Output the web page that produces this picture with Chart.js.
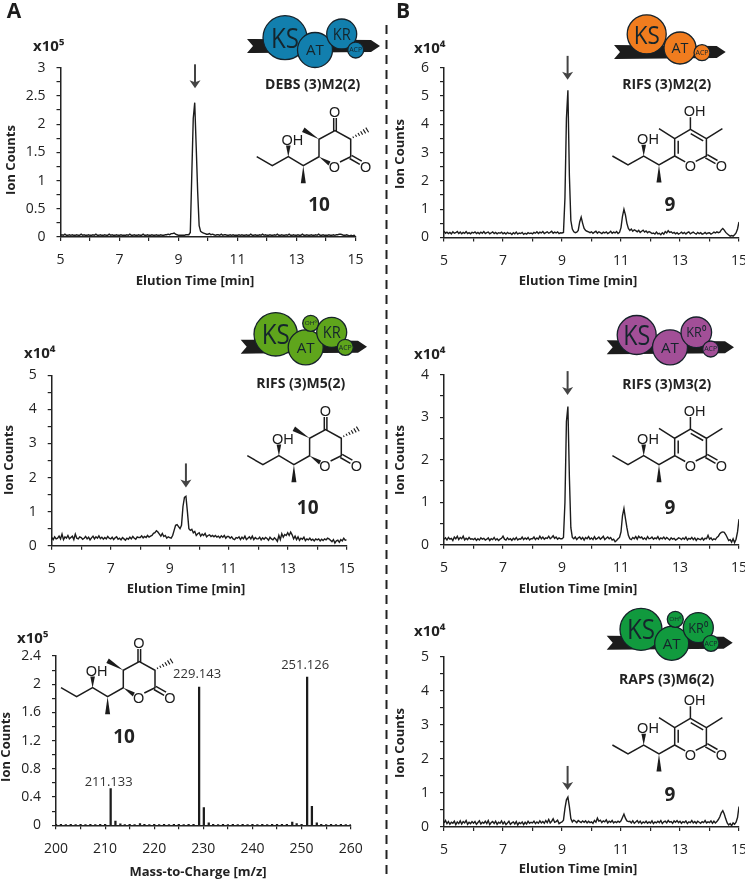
<!DOCTYPE html>
<html>
<head>
<meta charset="utf-8">
<title>Ion counts</title>
<script src="https://cdn.jsdelivr.net/npm/chart.js@4"></script>
<style>
  html, body { margin: 0; padding: 0; background: #fff; overflow: hidden; width: 745px; height: 879px; }
  #stage { position: relative; width: 745px; height: 879px; }
  canvas { position: absolute; }
  #art { position: absolute; left: 0; top: 0; pointer-events: none; }
</style>
</head>
<body>
<div id="stage"></div>
<script>
// Elution time grid, one row per minute
const elutionTimes = [
  5,5.05,5.1,5.15,5.2,5.25,5.3,5.35,5.4,5.45,5.5,5.55,5.6,5.65,5.7,5.75,5.8,5.85,5.9,5.95,
  6,6.05,6.1,6.15,6.2,6.25,6.3,6.35,6.4,6.45,6.5,6.55,6.6,6.65,6.7,6.75,6.8,6.85,6.9,6.95,
  7,7.05,7.1,7.15,7.2,7.25,7.3,7.35,7.4,7.45,7.5,7.55,7.6,7.65,7.7,7.75,7.8,7.85,7.9,7.95,
  8,8.05,8.1,8.15,8.2,8.25,8.3,8.35,8.4,8.45,8.5,8.55,8.6,8.65,8.7,8.75,8.8,8.85,8.9,8.95,
  9,9.05,9.1,9.15,9.2,9.25,9.3,9.35,9.4,9.45,9.5,9.55,9.6,9.65,9.7,9.75,9.8,9.85,9.9,9.95,
  10,10.05,10.1,10.15,10.2,10.25,10.3,10.35,10.4,10.45,10.5,10.55,10.6,10.65,10.7,10.75,10.8,10.85,10.9,10.95,
  11,11.05,11.1,11.15,11.2,11.25,11.3,11.35,11.4,11.45,11.5,11.55,11.6,11.65,11.7,11.75,11.8,11.85,11.9,11.95,
  12,12.05,12.1,12.15,12.2,12.25,12.3,12.35,12.4,12.45,12.5,12.55,12.6,12.65,12.7,12.75,12.8,12.85,12.9,12.95,
  13,13.05,13.1,13.15,13.2,13.25,13.3,13.35,13.4,13.45,13.5,13.55,13.6,13.65,13.7,13.75,13.8,13.85,13.9,13.95,
  14,14.05,14.1,14.15,14.2,14.25,14.3,14.35,14.4,14.45,14.5,14.55,14.6,14.65,14.7,14.75,14.8,14.85,14.9,14.95,
  15
];

const debsM2Counts = [
  .03,.04,.03,.05,.03,.03,.04,.03,.04,.03,.03,.04,.03,.03,.05,.03,.04,.03,.03,.04,
  .03,.03,.04,.03,.05,.03,.03,.04,.03,.03,.04,.03,.03,.05,.03,.04,.03,.03,.04,.03,
  .03,.04,.03,.03,.03,.04,.03,.05,.03,.03,.04,.03,.03,.04,.03,.03,.05,.03,.03,.04,
  .03,.03,.04,.03,.03,.04,.03,.03,.04,.03,.03,.04,.04,.05,.04,.06,.06,.07,.05,.04,
  .03,.03,.03,.03,.03,.04,.04,.04,.08,1.1,2.1,2.38,1.6,.8,.2,.1,.08,.07,.06,.05,
  .05,.06,.04,.05,.04,.03,.04,.04,.03,.05,.03,.04,.04,.03,.03,.04,.03,.04,.03,.03,
  .03,.04,.03,.04,.03,.03,.04,.03,.03,.05,.03,.03,.04,.03,.03,.04,.03,.05,.03,.04,
  .03,.03,.04,.03,.03,.04,.03,.05,.03,.03,.04,.03,.03,.04,.03,.05,.03,.03,.04,.03,
  .03,.04,.03,.03,.05,.03,.03,.04,.03,.03,.04,.03,.03,.04,.03,.05,.03,.03,.04,.03,
  .03,.03,.04,.03,.03,.04,.03,.04,.04,.05,.05,.04,.03,.03,.04,.03,.02,.03,.02,.03,
  .02
];

const rifsM2Counts = [
  .22,.15,.19,.14,.18,.13,.2,.15,.17,.21,.14,.19,.13,.18,.15,.21,.14,.17,.13,.18,
  .16,.2,.14,.18,.13,.19,.15,.21,.14,.17,.19,.13,.16,.2,.14,.18,.13,.17,.15,.19,
  .13,.17,.12,.18,.14,.16,.11,.17,.13,.19,.12,.16,.14,.18,.11,.15,.12,.17,.14,.16,
  .13,.18,.15,.2,.14,.19,.16,.21,.14,.17,.2,.15,.18,.22,.15,.19,.16,.2,.14,.17,
  .16,.18,1.4,4.2,5.2,2.2,.6,.3,.2,.17,.19,.25,.55,.72,.5,.32,.25,.22,.2,.17,
  .2,.15,.19,.22,.15,.2,.17,.14,.19,.16,.2,.14,.17,.22,.15,.19,.16,.21,.14,.18,
  .35,.75,1,.8,.5,.32,.25,.3,.22,.27,.24,.2,.25,.18,.22,.26,.19,.23,.17,.21,
  .18,.14,.16,.12,.19,.13,.15,.1,.17,.12,.21,.16,.24,.18,.2,.15,.18,.13,.17,.12,
  .15,.19,.14,.18,.12,.17,.2,.13,.16,.19,.15,.12,.18,.14,.17,.12,.14,.18,.13,.16,
  .17,.12,.15,.19,.16,.2,.17,.19,.27,.32,.26,.18,.13,.09,.05,.07,.05,.1,.16,.3,
  .55
];

const rifsM5Counts = [
  .24,.18,.26,.2,.22,.28,.2,.34,.18,.26,.22,.3,.2,.24,.28,.18,.34,.22,.2,.26,
  .24,.19,.22,.27,.2,.25,.17,.23,.28,.2,.26,.22,.29,.21,.25,.19,.24,.2,.27,.22,
  .2,.25,.18,.23,.26,.19,.22,.17,.24,.2,.16,.22,.19,.25,.2,.27,.22,.19,.26,.24,
  .24,.29,.23,.27,.24,.3,.25,.28,.3,.36,.38,.44,.4,.34,.28,.36,.27,.3,.22,.26,
  .24,.22,.3,.45,.6,.62,.56,.5,.6,1.15,1.42,1.45,1,.5,.45,.48,.38,.42,.3,.35,
  .38,.28,.34,.3,.36,.26,.3,.32,.27,.3,.26,.3,.25,.28,.23,.29,.25,.3,.22,.27,
  .27,.22,.26,.2,.18,.24,.22,.26,.18,.25,.2,.28,.18,.22,.26,.2,.28,.18,.24,.2,
  .2,.25,.17,.23,.19,.24,.21,.16,.25,.2,.17,.23,.19,.13,.3,.18,.35,.25,.33,.3,
  .38,.3,.4,.32,.2,.28,.18,.26,.16,.22,.19,.25,.15,.2,.17,.22,.16,.19,.14,.2,
  .17,.2,.14,.19,.15,.2,.17,.22,.2,.16,.12,.18,.08,.14,.16,.1,.18,.14,.22,.16,
  .17
];

const rifsM3Counts = [
  .13,.16,.11,.17,.13,.15,.1,.18,.14,.2,.12,.17,.14,.2,.11,.15,.12,.17,.13,.14,
  .12,.15,.1,.14,.11,.16,.13,.15,.11,.13,.16,.1,.14,.12,.17,.11,.14,.1,.13,.15,
  .2,.13,.11,.16,.12,.14,.1,.15,.12,.17,.11,.14,.13,.18,.12,.16,.13,.17,.11,.14,
  .14,.18,.12,.16,.13,.2,.14,.18,.13,.16,.15,.2,.14,.17,.21,.15,.18,.13,.16,.14,
  .14,.17,1,2.9,3.25,1.6,.4,.17,.14,.18,.12,.16,.18,.13,.17,.11,.17,.14,.19,.13,
  .16,.12,.19,.13,.15,.18,.13,.16,.2,.12,.15,.18,.14,.17,.11,.13,.07,.1,.14,.17,
  .3,.68,.85,.62,.4,.22,.14,.12,.17,.14,.19,.13,.2,.16,.18,.13,.16,.12,.19,.14,
  .15,.18,.13,.16,.14,.19,.12,.16,.14,.18,.13,.17,.14,.11,.16,.13,.15,.11,.13,.16,
  .15,.12,.16,.13,.18,.11,.15,.13,.17,.12,.16,.1,.15,.13,.12,.16,.11,.15,.14,.22,
  .13,.16,.11,.14,.12,.17,.2,.26,.29,.3,.29,.24,.17,.1,.12,.06,.14,.05,.13,.3,
  .6
];

const rapsM6Counts = [
  .12,.19,.1,.16,.08,.14,.11,.17,.07,.15,.1,.18,.09,.16,.12,.19,.08,.14,.1,.16,
  .11,.16,.08,.13,.18,.09,.14,.11,.17,.1,.19,.07,.13,.16,.1,.17,.08,.14,.11,.18,
  .09,.15,.07,.12,.17,.08,.12,.15,.09,.16,.06,.13,.1,.15,.07,.14,.09,.17,.11,.14,
  .12,.17,.1,.15,.11,.18,.12,.16,.11,.19,.13,.22,.12,.17,.24,.14,.16,.2,.1,.13,
  .15,.2,.55,.8,.88,.6,.25,.15,.2,.17,.13,.19,.16,.13,.18,.14,.18,.12,.17,.13,
  .15,.11,.19,.14,.26,.17,.2,.13,.18,.15,.21,.12,.17,.14,.19,.12,.16,.13,.17,.14,
  .18,.28,.38,.26,.18,.16,.17,.12,.18,.11,.15,.19,.12,.17,.1,.15,.12,.17,.11,.15,
  .12,.18,.1,.15,.12,.17,.13,.19,.1,.15,.17,.12,.19,.14,.16,.11,.18,.14,.19,.13,
  .17,.11,.16,.13,.18,.1,.15,.13,.19,.12,.16,.11,.17,.14,.11,.16,.13,.19,.12,.15,
  .13,.18,.11,.17,.12,.16,.22,.3,.42,.48,.38,.24,.12,.06,.1,.04,.12,.08,.14,.28,
  .6
];

// Mass spectrum sticks
const massValues = [
  200,201,202,203,204,205,206,207,208,209,210,211.13,212.1,213.1,214,215,216,217.1,218,219,220,
  221,222,223,224,225,226,227,228,229.14,230.1,231.1,232,233,234,235,236,237,238,239,240,
  241,242,243,244,245,246,247,248.1,249,250,251.13,252.1,253.1,254,255,256,257,258,259,260
];
const massCounts = [
  .012,.012,.01,.012,.01,.012,.01,.012,.01,.012,.012,.52,.06,.02,.01,.012,.01,.025,.012,.01,.012,
  .01,.012,.01,.012,.015,.01,.012,.012,1.96,.25,.035,.012,.01,.012,.01,.012,.01,.012,.01,.012,
  .01,.012,.01,.012,.012,.015,.015,.045,.025,.012,2.1,.27,.035,.012,.01,.012,.01,.012,.01,.012
];

const elutionTickLabels = ['5','7','9','11','13','15'];
const massTickLabels = ['200','210','220','230','240','250','260'];
const debsTickLabels = ['0','0.5','1','1.5','2','2.5','3'];
const rifsM2TickLabels = ['0','1','2','3','4','5','6'];
const fiveTickLabels = ['0','1','2','3','4','5'];
const fourTickLabels = ['0','1','2','3','4'];
const massCountLabels = ['0','0.4','0.8','1.2','1.6','2','2.4'];

const peakLabels = [
  { mz: 211.13, y: .61, text: '211.133' },
  { mz: 229.14, y: 2.146, text: '229.143' },
  { mz: 251.13, y: 2.264, text: '251.126' }
];

const textFont = '"Open Sans", sans-serif';
const ink = '#222';

// box = canvas rect on the page, plot = wanted chart area on the page
const panels = [
  { box: [0,0,386,298], plot: [60.5,355.5,67.7,237], x: [5,15,1], y: [0,3,.25], xLabels: elutionTickLabels, yLabels: debsTickLabels,
    counts: debsM2Counts, power: 'x10⁵', powerAt: [33,47], yTitleAt: [11,160], xTitleAt: [195,281], arrow: [9.56,2.635] },
  { box: [388,0,357,298], plot: [444,739,67.7,237.5], x: [5,15,1], y: [0,6,.5], xLabels: elutionTickLabels, yLabels: rifsM2TickLabels,
    counts: rifsM2Counts, power: 'x10⁴', powerAt: [414,49], yTitleAt: [400,154], xTitleAt: [578,281], arrow: [9.19,5.57] },
  { box: [0,298,386,302], plot: [51.7,346.7,375.3,545.7], x: [5,15,1], y: [0,5,.5], xLabels: elutionTickLabels, yLabels: fiveTickLabels,
    counts: rifsM5Counts, power: 'x10⁴', powerAt: [24,354], yTitleAt: [9,460], xTitleAt: [186,589], arrow: [9.55,1.71] },
  { box: [388,298,357,302], plot: [444,739,374.7,544.7], x: [5,15,1], y: [0,4,.5], xLabels: elutionTickLabels, yLabels: fourTickLabels,
    counts: rifsM3Counts, power: 'x10⁴', powerAt: [414,355], yTitleAt: [400,460], xTitleAt: [578,589], arrow: [9.19,3.52] },
  { box: [0,600,386,279], plot: [56,350.7,656,825.3], x: [200,260,5], y: [0,2.4,.2], xLabels: massTickLabels, yLabels: massCountLabels,
    masses: massValues, counts: massCounts, power: 'x10⁵', powerAt: [17,639], yTitleAt: [6,747], xTitleAt: [198,872], xTitle: 'Mass-to-Charge [m/z]', peaks: peakLabels },
  { box: [388,600,357,279], plot: [444,739,657,827], x: [5,15,1], y: [0,5,.5], xLabels: elutionTickLabels, yLabels: fiveTickLabels,
    counts: rapsM6Counts, power: 'x10⁴', powerAt: [414,632], yTitleAt: [400,743], xTitleAt: [578,869], arrow: [9.19,1.09] }
];

// Axis titles, exponent, arrow and peak labels, all in page coordinates
function notesPlugin(p) {
  return {
    id: 'panelNotes',
    afterDraw(chart) {
      const ctx = chart.ctx;
      ctx.save();
      ctx.translate(-p.box[0], -p.box[1]);
      ctx.fillStyle = ink;
      ctx.textBaseline = 'middle';

      ctx.font = '700 13px ' + textFont;
      ctx.textAlign = 'center';
      ctx.fillText(p.xTitle || 'Elution Time [min]', p.xTitleAt[0], p.xTitleAt[1]);

      ctx.save();
      ctx.translate(p.yTitleAt[0], p.yTitleAt[1]);
      ctx.rotate(-Math.PI / 2);
      ctx.fillText('Ion Counts', 0, 0);
      ctx.restore();

      ctx.font = '700 15px ' + textFont;
      ctx.textAlign = 'left';
      ctx.fillText(p.power, p.powerAt[0], p.powerAt[1]);

      const sx = chart.scales.x, sy = chart.scales.y;
      if (p.arrow) {
        const ax = sx.getPixelForValue(p.arrow[0]) + p.box[0];
        const ay = sy.getPixelForValue(p.arrow[1]) + p.box[1];
        ctx.strokeStyle = '#444';
        ctx.fillStyle = '#444';
        ctx.lineWidth = 2;
        ctx.beginPath();
        ctx.moveTo(ax, ay - 24);
        ctx.lineTo(ax, ay - 5);
        ctx.stroke();
        ctx.beginPath();
        ctx.moveTo(ax, ay);
        ctx.lineTo(ax - 5.5, ay - 8);
        ctx.lineTo(ax, ay - 6);
        ctx.lineTo(ax + 5.5, ay - 8);
        ctx.closePath();
        ctx.fill();
      }
      if (p.peaks) {
        ctx.fillStyle = '#333';
        ctx.font = '13px ' + textFont;
        ctx.textAlign = 'center';
        p.peaks.forEach(pk => {
          ctx.fillText(pk.text, sx.getPixelForValue(pk.mz) + p.box[0] - 2, sy.getPixelForValue(pk.y) + p.box[1]);
        });
      }
      ctx.restore();
    }
  };
}

const stage = document.getElementById('stage');

panels.forEach(p => {
  const canvas = document.createElement('canvas');
  canvas.width = p.box[2];
  canvas.height = p.box[3];
  canvas.style.left = p.box[0] + 'px';
  canvas.style.top = p.box[1] + 'px';
  stage.appendChild(canvas);

  const xs = p.masses || elutionTimes;
  const points = xs.map((x, i) => ({ x: x, y: p.counts[i] }));
  const yBand = 45, xBand = 30;

  const axisCommon = {
    type: 'linear',
    offset: false,
    border: { color: ink, width: 1.5 },
    grid: { offset: false, drawOnChartArea: false, drawTicks: true, tickLength: 4, color: ink, lineWidth: 1.2 }
  };

  new Chart(canvas.getContext('2d'), {
    type: p.masses ? 'bar' : 'line',
    data: {
      datasets: [{
        data: points,
        borderColor: '#1c1c1c',
        backgroundColor: '#1c1c1c',
        borderWidth: p.masses ? 0 : 1.4,
        pointRadius: 0,
        tension: 0,
        barThickness: 1.6
      }]
    },
    plugins: [notesPlugin(p)],
    options: {
      responsive: false,
      animation: false,
      layout: {
        padding: {
          left: p.plot[0] - p.box[0] - yBand,
          right: p.box[0] + p.box[2] - p.plot[1],
          top: p.plot[2] - p.box[1],
          bottom: p.box[1] + p.box[3] - p.plot[3] - xBand
        }
      },
      plugins: { legend: { display: false }, tooltip: { enabled: false } },
      scales: {
        x: Object.assign({}, axisCommon, {
          min: p.x[0], max: p.x[1],
          afterFit(s) { s.height = xBand; s.paddingLeft = 0; s.paddingRight = 0; },
          ticks: {
            stepSize: p.x[2], autoSkip: false, maxRotation: 0, padding: 11, color: ink,
            font: { family: textFont, size: 14 },
            callback: (v, i) => (i % 2 === 0 ? p.xLabels[i / 2] : '')
          }
        }),
        y: Object.assign({}, axisCommon, {
          min: p.y[0], max: p.y[1],
          afterFit(s) { s.width = yBand; s.paddingTop = 0; s.paddingBottom = 0; },
          ticks: {
            stepSize: p.y[2], autoSkip: false, padding: 11, color: ink,
            font: { family: textFont, size: 14 },
            callback: (v, i) => (i % 2 === 0 ? p.yLabels[i / 2] : '')
          }
        })
      }
    }
  });
});

// Module cartoons and structures sit on one svg layer above the charts
function moduleSvg(color, band, circles, title) {
  const [x0, x1, yc] = band;
  let s = `<polygon fill="#1c1c1c" points="${x0},${yc-7} ${x1-9},${yc-6} ${x1},${yc} ${x1-9},${yc+6} ${x0},${yc+7} ${x0+6},${yc}"/>`;
  circles.forEach(c => {
    s += `<circle cx="${c[0]}" cy="${c[1]}" r="${c[2]}" fill="${color}" stroke="#16222a" stroke-width="1.3"/>`;
  });
  circles.forEach(c => {
    s += `<text x="${c[0]}" y="${c[1]}" dy="0.36em" text-anchor="middle" font-size="${c[4]}" fill="#15252c" font-family="Open Sans" textLength="${c[5]}" lengthAdjust="spacingAndGlyphs">${c[3]}</text>`;
  });
  s += `<text x="${title[1]}" y="${title[2]}" dy="0.36em" text-anchor="middle" font-size="14" font-weight="700" fill="${ink}" font-family="Open Sans">${title[0]}</text>`;
  return s;
}

const bond = 'fill="none" stroke="#1c1c1c" stroke-width="1.5"';
const atomText = 'text-anchor="middle" font-size="14.5" fill="#1c1c1c" font-family="Liberation Sans"';

const hashMarks = '<path d="M107.8,36.6 L108.6,38 M110.4,34.8 L111.6,36.8 M113,33 L114.6,35.8 M115.6,31.2 L117.6,34.6 M118.2,29.4 L120.6,33.4 M120.8,27.6 L123.6,32.2" stroke="#1c1c1c" stroke-width="1.1" fill="none"/>';

const lactoneSymbol = `<g id="lactone">
  <path ${bond} d="M11.7,56.7 L27.3,65.7 L43.3,56.7 L58.3,65.7 L74,56.7 L74,39.3 L90,30.7 L105.7,39.3 L105.7,56.7 L95,62"/>
  <path ${bond} d="M88.7,31 L88.7,18 M91.3,31 L91.3,18 M104.6,58.5 L114.8,64.4 M106.6,55.4 L116.8,61.2"/>
  <polygon points="43.3,57 41,45.5 45.6,45.5" fill="#1c1c1c"/>
  <polygon points="58.3,65.7 55.8,83.3 60.8,83.3" fill="#1c1c1c"/>
  <polygon points="74,56.7 85.5,61.5 83.5,65.5" fill="#1c1c1c"/>
  <polygon points="74,39.3 57,32 59.5,27.5" fill="#1c1c1c"/>
  ${hashMarks}
  <text x="47.3" y="44.5" ${atomText}>OH</text>
  <text x="89.7" y="17" ${atomText}>O</text>
  <text x="89.3" y="71.5" ${atomText}>O</text>
  <text x="120.7" y="71.5" ${atomText}>O</text>
</g>`;

const pyroneSymbol = `<g id="pyrone">
  <path ${bond} d="M2.7,56.7 L18.3,65.7 L34,56.7 L49.3,65.7 L65,56.7 L65,39.3 L80.7,30 L96.7,39.3 L96.7,56.7 L86,62 M65,56.7 L75.5,62.5"/>
  <path ${bond} d="M68.5,41.5 L68.5,54.5 M81,34.3 L93.5,41.5 M80.7,30 L80.7,18 M65,39.3 L49.3,29.3 M96.7,39.3 L112.7,29.3 M95.6,58.5 L105.8,64.4 M97.6,55.4 L107.8,61.2"/>
  <polygon points="34,57 31.7,45.5 36.3,45.5" fill="#1c1c1c"/>
  <polygon points="49.3,65.7 46.8,83.3 51.8,83.3" fill="#1c1c1c"/>
  <text x="38.3" y="44.5" ${atomText}>OH</text>
  <text x="85" y="17" ${atomText}>OH</text>
  <text x="80.7" y="71.5" ${atomText}>O</text>
  <text x="111.7" y="71.5" ${atomText}>O</text>
</g>`;

function structureUse(id, dx, dy, label, lx, ly) {
  return `<use href="#${id}" x="${dx}" y="${dy}"/>` +
    `<text x="${lx}" y="${ly}" dy="0.36em" text-anchor="middle" font-size="19" font-weight="700" fill="${ink}" font-family="Open Sans">${label}</text>`;
}

const art = `<svg id="art" xmlns="http://www.w3.org/2000/svg" width="745" height="879">
  <defs>${lactoneSymbol}${pyroneSymbol}</defs>
  <text x="14" y="10" dy="0.36em" text-anchor="middle" font-size="21" font-weight="700" fill="#1c1c1c" font-family="Open Sans">A</text>
  <text x="403" y="10" dy="0.36em" text-anchor="middle" font-size="21" font-weight="700" fill="#1c1c1c" font-family="Open Sans">B</text>
  <line x1="386.5" y1="25" x2="386.5" y2="879" stroke="#222" stroke-width="2" stroke-dasharray="9 6"/>
  ${moduleSvg('#127fae', [247,380,46], [[285,37.7,22,'KS',28,28],[315,50,17.5,'AT',15,18],[341.7,34,15,'KR',16,18],[355.7,50,8,'ACP',6.5,13]], ['DEBS (3)M2(2)',312.7,84])}
  ${moduleSvg('#f07c1e', [614,725.7,52], [[646.7,34.3,19.5,'KS',26,26],[680,48,16,'AT',15,17],[702,52.7,8,'ACP',6.5,13]], ['RIFS (3)M2(2)',666.7,84])}
  ${moduleSvg('#5fa51c', [240.7,367,346.7], [[275.7,334.3,21.7,'KS',28,28],[305.7,347.3,17.5,'AT',15,18],[310.7,323.3,8,'OH⁰',5.5,12],[331.7,332.3,15,'KR',16,18],[345.3,347.3,8,'ACP',6.5,13]], ['RIFS (3)M5(2)',300.7,383.3])}
  ${moduleSvg('#a24f97', [606.7,734,347.3], [[636.7,335,19.5,'KS',27,27],[670,347.3,17.5,'AT',15,18],[696.3,332.3,15.3,'KR⁰',14,20],[710.7,349,8,'ACP',6.5,13]], ['RIFS (3)M3(2)',666.7,384])}
  ${moduleSvg('#119a3e', [606.7,732.7,642.7], [[641,629.3,21,'KS',28,28],[671.7,643.3,17,'AT',15,18],[675.3,619.3,8,'OH⁰',5.5,12],[698.3,627.7,15,'KR⁰',14,20],[711,643.3,8,'ACP',6.5,13]], ['RAPS (3)M6(2)',666.7,679])}
  ${structureUse('lactone',245,100,'10',319,204)}
  ${structureUse('lactone',235.6,399,'10',307.7,507)}
  ${structureUse('lactone',49.3,631,'10',124,736)}
  ${structureUse('pyrone',609.7,99.3,'9',670,204)}
  ${structureUse('pyrone',609.7,399,'9',670,507)}
  ${structureUse('pyrone',609.7,688.3,'9',670,794)}
</svg>`;
stage.insertAdjacentHTML('beforeend', art);
</script>
</body>
</html>
